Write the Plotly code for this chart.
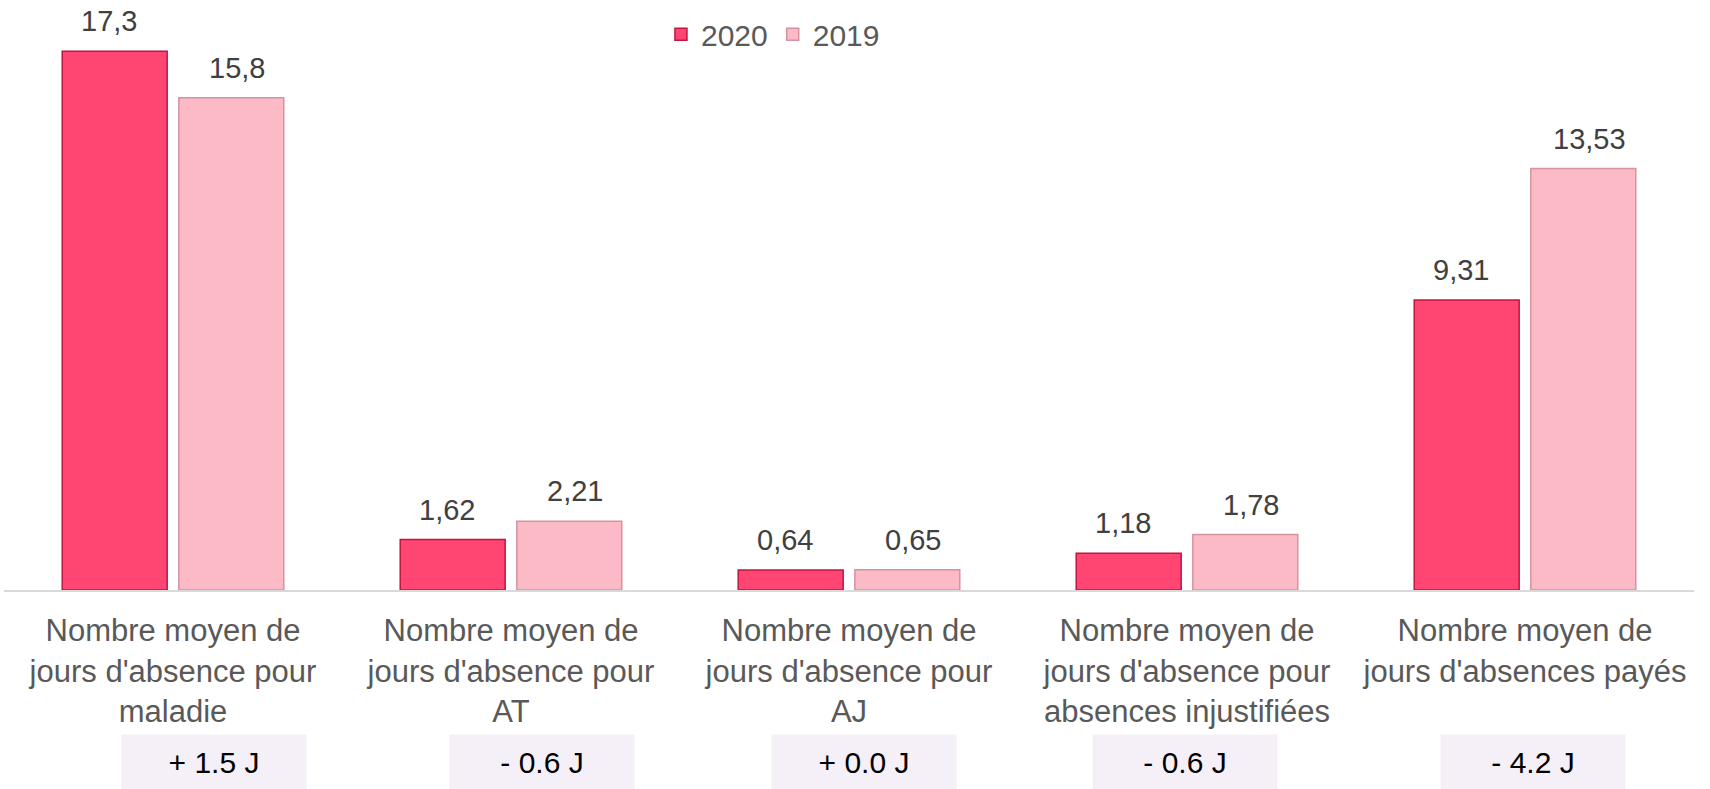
import plotly.graph_objects as go

categories = [
    "Nombre moyen de<br>jours d'absence pour<br>maladie",
    "Nombre moyen de<br>jours d'absence pour<br>AT",
    "Nombre moyen de<br>jours d'absence pour<br>AJ",
    "Nombre moyen de<br>jours d'absence pour<br>absences injustifiées",
    "Nombre moyen de<br>jours d'absences payés",
]
values_2020 = [17.3, 1.62, 0.64, 1.18, 9.31]
values_2019 = [15.8, 2.21, 0.65, 1.78, 13.53]
labels_2020 = ["17,3", "1,62", "0,64", "1,18", "9,31"]
labels_2019 = ["15,8", "2,21", "0,65", "1,78", "13,53"]
differences = ["+ 1.5 J", "- 0.6 J", "+ 0.0 J", "- 0.6 J", "- 4.2 J"]
diff_shift = [41, 31, 15, -2, 8]

FONT = "Liberation Sans, Arial, sans-serif"

fig = go.Figure()
fig.add_trace(go.Bar(
    name="2020", x=categories, y=values_2020,
    marker=dict(color="#FF4571", line=dict(color="#C2143F", width=1.5)),
))
fig.add_trace(go.Bar(
    name="2019", x=categories, y=values_2019,
    marker=dict(color="#FBBAC5", line=dict(color="#D4939F", width=1.5)),
))

# value labels above bars
for vals, labs, xs in ((values_2020, labels_2020, -64), (values_2019, labels_2019, 64)):
    for cat, v, lab in zip(categories, vals, labs):
        fig.add_annotation(
            x=cat, y=v, xref="x", yref="y", xshift=xs, yshift=30, yanchor="middle",
            text=lab, showarrow=False,
            font=dict(size=29, color="#404040", family=FONT),
        )

for cat, d, s in zip(categories, differences, diff_shift):
    fig.add_annotation(
        x=cat, xref="x", y=0, yref="paper", yanchor="top", yshift=-144, xshift=s,
        text=d, showarrow=False, width=182, height=52,
        bgcolor="#F5F0F8", font=dict(size=30, color="#000000", family=FONT),
    )

fig.update_layout(
    width=1710, height=789,
    margin=dict(l=4, r=16, t=20, b=199, autoexpand=False),
    paper_bgcolor="white", plot_bgcolor="white",
    barmode="group", bargap=0.31, bargroupgap=0.1,
    font=dict(family=FONT, color="#595959"),
    showlegend=True,
    legend=dict(orientation="h", x=0.455, xanchor="center", y=0.975, yanchor="middle",
                font=dict(size=30, color="#595959", family=FONT),
                itemwidth=30, tracegroupgap=0, bgcolor="rgba(0,0,0,0)"),
    xaxis=dict(showline=True, linecolor="#D9D9D9", linewidth=2, ticks="",
               tickfont=dict(size=31, color="#595959", family=FONT),
               ticklabelstandoff=12, showgrid=False),
    yaxis=dict(range=[0, 18.3], visible=False, showgrid=False, zeroline=False),
)

fig.write_html("out.html", config={"displayModeBar": False},
               post_script="document.body.style.margin='0';document.body.style.overflow='hidden';")
